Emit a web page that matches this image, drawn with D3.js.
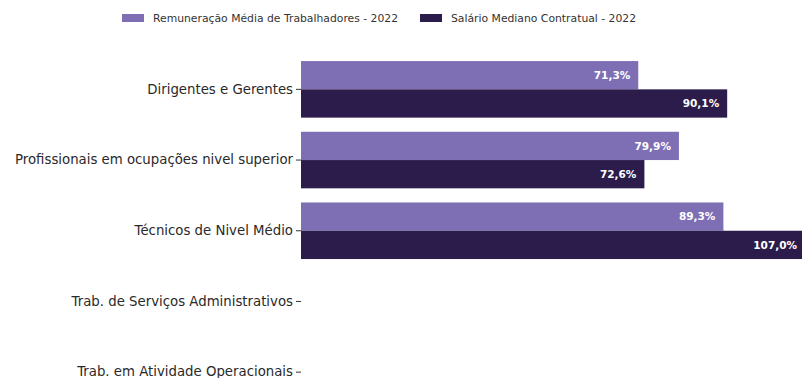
<!DOCTYPE html>
<html>
<head>
<meta charset="utf-8">
<script src="https://cdn.jsdelivr.net/npm/d3@7"></script>
<style>
html,body{margin:0;padding:0;background:#fff;}
svg{display:block;font-family:"DejaVu Sans",sans-serif;}
</style>
</head>
<body>
<svg id="chart" width="802" height="378"></svg>
<script>
const categories = [
  "Dirigentes e Gerentes",
  "Profissionais em ocupações nivel superior",
  "Técnicos de Nivel Médio",
  "Trab. de Serviços Administrativos",
  "Trab. em Atividade Operacionais"
];
const seriesNames = ["Remuneração Média de Trabalhadores - 2022", "Salário Mediano Contratual - 2022"];
const remuneracao = [71.3, 79.9, 89.3, null, null];
const salario = [90.1, 72.6, 107.0, null, null];
const colors = ["#7e6fb4", "#2b1c4b"];

const svg = d3.select("#chart");
const y = d3.scaleBand().domain(categories).range([54, 54 + 5 * 70.7]).paddingInner(0.2).paddingOuter(0.1);
const x = d3.scaleLinear().domain([0, 100]).range([301, 774]);
const sub = d3.scaleBand().domain([0, 1]).range([0, y.bandwidth()]);

const series = [remuneracao, salario];
const fmt = v => d3.format(".1f")(v).replace(".", ",") + "%";

series.forEach((vals, si) => {
  const data = categories.map((c, i) => ({c, v: vals[i]})).filter(d => d.v != null);
  const g = svg.append("g");
  g.selectAll("rect").data(data).join("rect")
    .attr("x", x(0))
    .attr("y", d => y(d.c) + sub(si))
    .attr("width", d => x(d.v) - x(0))
    .attr("height", sub.bandwidth())
    .attr("fill", colors[si]);
  g.selectAll("text").data(data).join("text")
    .attr("x", d => Math.min(x(d.v), 805) - 8)
    .attr("y", d => y(d.c) + sub(si) + sub.bandwidth() / 2)
    .attr("dy", "0.35em")
    .attr("text-anchor", "end")
    .attr("fill", "#fff")
    .attr("font-size", 10.5)
    .attr("font-weight", "bold")
    .text(d => fmt(d.v));
});

const axis = svg.append("g").attr("transform", `translate(${x(0)},0)`)
  .call(d3.axisLeft(y).tickSize(5).tickPadding(3));
axis.select(".domain").remove();
axis.selectAll("line").attr("stroke", "#333");
axis.selectAll("text").attr("fill", "#2a2a2a").attr("font-size", 13.3).attr("font-family", "DejaVu Sans, sans-serif");

// legend
const legendX = [122, 420];
seriesNames.forEach((n, i) => {
  const g = svg.append("g").attr("transform", `translate(${legendX[i]},14)`);
  g.append("rect").attr("width", 22).attr("height", 8).attr("fill", colors[i]);
  g.append("text").attr("x", 31).attr("y", 4).attr("dy", "0.35em")
    .attr("font-size", 10.8).attr("fill", "#333").text(n);
});
</script>
</body>
</html>
